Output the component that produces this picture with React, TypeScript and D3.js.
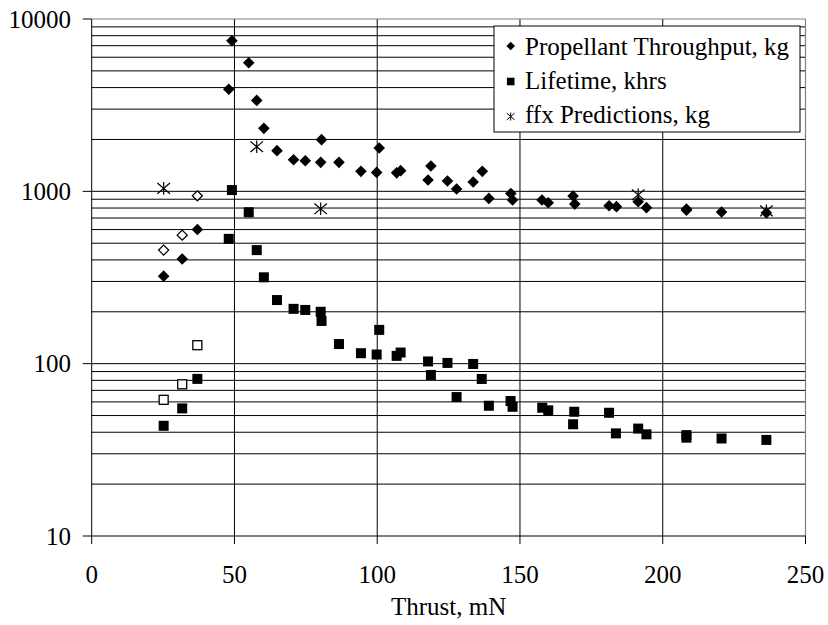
import React from "react";
import * as d3 from "d3";

// ---- data ----
const propThrust = [25.2, 31.7, 37.0, 48.0, 49.1, 55.0, 57.8, 60.3, 64.9, 70.7, 74.8, 80.2, 80.5, 86.6, 94.3, 99.8, 100.7, 106.8, 108.2, 117.8, 118.8, 124.6, 127.8, 133.6, 136.8, 139.1, 146.8, 147.4, 157.7, 159.9, 168.6, 169.2, 181.2, 183.8, 191.4, 194.3, 208.3, 208.3, 220.6, 236.3];
const propValues = [322, 405, 601, 3910, 7480, 5570, 3370, 2320, 1722, 1524, 1505, 1473, 1995, 1473, 1306, 1288, 1783, 1280, 1318, 1164, 1402, 1149, 1031, 1133, 1306, 910, 972, 891, 891, 859, 939, 843, 824, 815, 870, 804, 790, 776, 758, 750];
const propOpenThrust = [25.2, 31.7, 37.0];
const propOpenValues = [456, 557, 942];

const lifeThrust = [25.2, 31.7, 37.0, 48.0, 49.1, 55.0, 57.8, 60.3, 64.9, 70.7, 74.8, 80.2, 80.5, 86.6, 94.3, 99.8, 100.7, 106.8, 108.2, 117.8, 118.8, 124.6, 127.8, 133.6, 136.6, 139.1, 146.7, 147.4, 157.8, 159.9, 168.6, 169.0, 181.2, 183.6, 191.4, 194.3, 208.3, 208.3, 220.6, 236.3];
const lifeValues = [43.6, 55, 81.6, 530, 1017, 756, 456, 317, 234, 208, 205, 200, 177, 130, 115, 113, 157, 111, 116, 103, 86, 101, 64, 99.6, 81.5, 57, 60.7, 56.2, 55.5, 53.6, 44.5, 52.6, 51.9, 39.4, 42, 38.9, 38.5, 37.2, 36.8, 36.1];
const lifeOpenThrust = [25.2, 31.7, 37.0];
const lifeOpenValues = [61.7, 75.9, 128];

const ffxThrust = [25.2, 57.8, 80.2, 191.4, 236.3];
const ffxValues = [1041, 1815, 792, 955, 770];

const xTicks = [0, 50, 100, 150, 200, 250];
const yTicks = [10, 100, 1000, 10000];
const legendLabels = ["Propellant Throughput, kg", "Lifetime, khrs", "ffx Predictions, kg"];

const FONT = "'Liberation Serif', 'Times New Roman', serif";

function diamondPath(r: number) {
  return `M0,${-r}L${r},0L0,${r}L${-r},0Z`;
}
function starPath(r: number) {
  const h = r * 0.85;
  return `M${-r},${-h}L${r},${h}M${-r},${h}L${r},${-h}M0,${-r}L0,${r}`;
}

export default function App() {
  const W = 828, H = 625;
  const left = 91.7, right = 805.5, top = 19, bottom = 536;
  const x = d3.scaleLinear().domain([0, 250]).range([left, right]);
  const y = d3.scaleLog().domain([10, 10000]).range([bottom, top]);

  const minor: number[] = [];
  [10, 100, 1000].forEach((d) => {
    for (let m = 2; m <= 9; m++) minor.push(m * d);
  });

  const prop = propThrust.map((t, i) => [t, propValues[i]]);
  const propOpen = propOpenThrust.map((t, i) => [t, propOpenValues[i]]);
  const life = lifeThrust.map((t, i) => [t, lifeValues[i]]);
  const lifeOpen = lifeOpenThrust.map((t, i) => [t, lifeOpenValues[i]]);
  const ffx = ffxThrust.map((t, i) => [t, ffxValues[i]]);

  const sq = 10;
  const lx = 510.7;
  const legendY = [46, 81.5, 116.5];
  const legendBase = [54.5, 88.7, 122.5];

  return (
    <svg width={W} height={H} style={{ position: "absolute", left: 0, top: 0, background: "#fff" }}>
      <rect width={W} height={H} fill="#fff" />
      {/* horizontal gridlines */}
      {minor.concat([100, 1000]).map((v) => (
        <line key={"h" + v} x1={left} x2={right} y1={y(v)} y2={y(v)} stroke="#000" strokeWidth={1} />
      ))}
      {/* vertical gridlines */}
      {xTicks.slice(1, -1).map((v) => (
        <line key={"v" + v} x1={x(v)} x2={x(v)} y1={top} y2={bottom} stroke="#000" strokeWidth={1} />
      ))}
      {/* border top/right */}
      <line x1={left} x2={right} y1={top} y2={top} stroke="#808080" strokeWidth={1.2} />
      <line x1={right} x2={right} y1={top} y2={bottom} stroke="#808080" strokeWidth={1.2} />
      {/* axes */}
      <line x1={left} x2={left} y1={top} y2={bottom} stroke="#000" strokeWidth={1} />
      <line x1={left} x2={right} y1={bottom} y2={bottom} stroke="#000" strokeWidth={1} />
      {yTicks.map((v) => (
        <g key={"yt" + v}>
          <line x1={left - 9} x2={left} y1={y(v)} y2={y(v)} stroke="#000" />
          <text x={71} y={y(v) + 8.5} textAnchor="end" fontFamily={FONT} fontSize={25} fill="#000">
            {v}
          </text>
        </g>
      ))}
      {xTicks.map((v) => (
        <g key={"xt" + v}>
          <line x1={x(v)} x2={x(v)} y1={bottom} y2={bottom + 8} stroke="#000" />
          <text x={x(v)} y={582.5} textAnchor="middle" fontFamily={FONT} fontSize={25} fill="#000">
            {v}
          </text>
        </g>
      ))}
      <text x={(left + right) / 2} y={615} textAnchor="middle" fontFamily={FONT} fontSize={25} fill="#000">
        Thrust, mN
      </text>

      {/* data */}
      {life.map(([t, v], i) => (
        <rect key={"l" + i} x={x(t) - sq / 2} y={y(v) - sq / 2} width={sq} height={sq} fill="#000" />
      ))}
      {lifeOpen.map(([t, v], i) => (
        <rect key={"lo" + i} x={x(t) - 4.5} y={y(v) - 4.5} width={9} height={9} fill="#fff" stroke="#000" strokeWidth={1.3} />
      ))}
      {prop.map(([t, v], i) => (
        <path key={"p" + i} d={diamondPath(5.8)} transform={`translate(${x(t)},${y(v)})`} fill="#000" />
      ))}
      {propOpen.map(([t, v], i) => (
        <path key={"po" + i} d={diamondPath(5)} transform={`translate(${x(t)},${y(v)})`} fill="#fff" stroke="#000" strokeWidth={1.3} />
      ))}
      {ffx.map(([t, v], i) => (
        <path key={"f" + i} d={starPath(6.3)} transform={`translate(${x(t)},${y(v)})`} fill="none" stroke="#000" strokeWidth={1.2} />
      ))}

      {/* legend */}
      <rect x={494} y={26} width={306} height={106} fill="#fff" stroke="#000" strokeWidth={1} />
      <path d={diamondPath(4.3)} transform={`translate(${lx},${legendY[0]})`} fill="#000" />
      <rect x={lx - 3.8} y={legendY[1] - 3.8} width={7.6} height={7.6} fill="#000" />
      <path d={starPath(4)} transform={`translate(${lx},${legendY[2]})`} fill="none" stroke="#000" strokeWidth={1} />
      {legendLabels.map((s, i) => (
        <text key={s} x={525} y={legendBase[i]} fontFamily={FONT} fontSize={25} fill="#000">
          {s}
        </text>
      ))}
    </svg>
  );
}
